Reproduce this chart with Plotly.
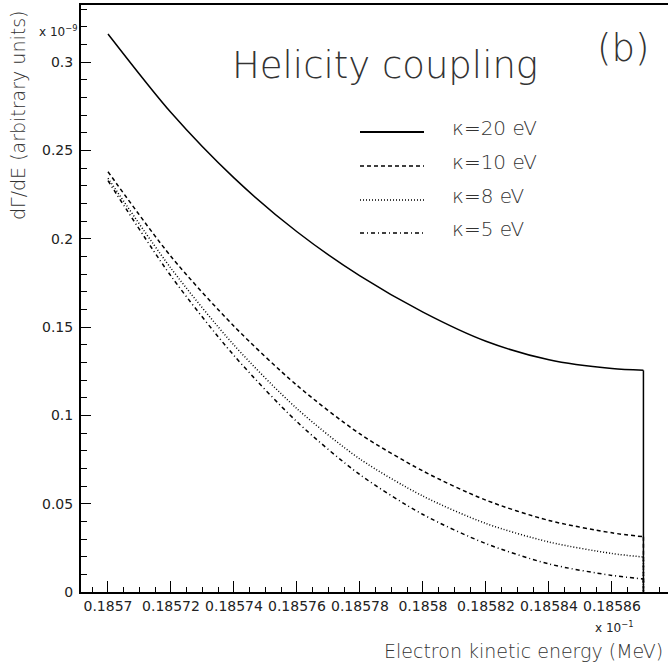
import plotly.graph_objects as go

# ---- data (values in units of 1e-9) ----
energy = [0.1857, 0.18572, 0.18574, 0.18576, 0.18578, 0.1858, 0.18582, 0.18584, 0.18586, 0.18587]
k20 = [0.316, 0.2715, 0.2345, 0.204, 0.179, 0.1585, 0.142, 0.1315, 0.1265, 0.1255]
k10 = [0.238, 0.190, 0.1505, 0.117, 0.0895, 0.0685, 0.052, 0.0405, 0.0335, 0.0313]
k8 = [0.2343, 0.1833, 0.1398, 0.1038, 0.0753, 0.0543, 0.0388, 0.0283, 0.0218, 0.0198]
k5 = [0.2329, 0.1789, 0.1339, 0.0964, 0.0664, 0.0439, 0.0274, 0.0159, 0.0094, 0.0074]
endpoint_value = 0.0

labels = ["\u03ba=20 eV", "\u03ba=10 eV", "\u03ba=8 eV", "\u03ba=5 eV"]
series = [k20, k10, k8, k5]
dashes = ["solid", "4px,3px", "1px,2px", "4px,3px,1px,3px"]

xtick_vals = [0.1857, 0.18572, 0.18574, 0.18576, 0.18578, 0.1858, 0.18582, 0.18584, 0.18586]
xtick_text = ["0.1857", "0.18572", "0.18574", "0.18576", "0.18578", "0.1858", "0.18582", "0.18584", "0.18586"]
ytick_vals = [0, 0.05, 0.1, 0.15, 0.2, 0.25, 0.3]
ytick_text = ["0", "0.05", "0.1", "0.15", "0.2", "0.25", "0.3"]

TICKFONT = "DejaVu Sans"
BIGFONT = "DejaVu Sans"
INK = "#222222"
TXT = "#333333"

fig = go.Figure()
for name, ys, d in zip(labels, series, dashes):
    fig.add_trace(go.Scatter(x=energy, y=ys, mode="lines", name=name,
                             line=dict(color="black", width=1.5, dash=d, shape="spline", smoothing=0.8),
                             showlegend=False))
    fig.add_trace(go.Scatter(x=[energy[-1], energy[-1]], y=[ys[-1], endpoint_value], mode="lines",
                             line=dict(color="black", width=1.5, dash=d), showlegend=False, hoverinfo="skip"))

W, H = 668, 665
L, R, T, B = 81, 0, 5, 73
fig.update_layout(
    width=W, height=H,
    margin=dict(l=L, r=R, t=T, b=B),
    paper_bgcolor="white", plot_bgcolor="white",
    font=dict(family=TICKFONT, color=INK, size=13),
    showlegend=False,
)
fig.update_xaxes(
    range=[0.18569143, 0.1858778],
    tickvals=xtick_vals, ticktext=xtick_text,
    ticks="inside", ticklen=11, tickwidth=1, tickcolor="black",
    minor=dict(dtick=0.000005, tick0=0.1857, ticks="inside", ticklen=5, tickcolor="black", tickwidth=1),
    showline=True, linecolor="black", linewidth=2, mirror=True,
    showgrid=False, zeroline=False, automargin=False,
    tickfont=dict(size=14, family=TICKFONT, color=INK),
)
fig.update_yaxes(
    range=[0, 0.3324],
    tickvals=ytick_vals, ticktext=ytick_text,
    ticks="inside", ticklen=10, tickwidth=1, tickcolor="black",
    minor=dict(dtick=0.01, tick0=0, ticks="inside", ticklen=6, tickcolor="black", tickwidth=1),
    showline=True, linecolor="black", linewidth=2,
    showgrid=False, zeroline=False, automargin=False,
    ticklabelstandoff=3,
    tickfont=dict(size=14, family=TICKFONT, color=INK),
)

def px2paper_x(px):
    return (px - L) / (W - L - R)

def px2paper_y(py):
    return (H - B - py) / (H - T - B)

def note(text, px, py, size, xanchor="center", family=BIGFONT, weight=200, color=TXT, **kw):
    return dict(text=text, x=px2paper_x(px), y=px2paper_y(py), xref="paper", yref="paper",
                xanchor=xanchor, yanchor="middle", showarrow=False,
                font=dict(size=size, family=family, color=color, weight=weight), **kw)

ann = [
    note("Helicity coupling", 385, 66, 37),
    note("(b)", 623, 49, 37),
    note("x 10<sup>\u22129</sup>", 37, 31, 12, xanchor="left", family=TICKFONT, weight=400, color=INK),
    note("x 10<sup>\u22121</sup>", 593, 627, 12, xanchor="left", family=TICKFONT, weight=400, color=INK),
    note("Electron kinetic energy (MeV)", 665, 651, 19, xanchor="right"),
    note("d\u0393/dE (arbitrary units)", 18, 116, 19, textangle=-90),
]

legend_y = [132, 166, 200, 233]
shapes = []
for lab, d, ly in zip(labels, dashes, legend_y):
    shapes.append(dict(type="line", xref="paper", yref="paper",
                       x0=px2paper_x(360), x1=px2paper_x(424), y0=px2paper_y(ly), y1=px2paper_y(ly),
                       line=dict(color="black", width=1.8 if d == "solid" else 1.5, dash=d)))
    ann.append(note(lab, 450, ly - 4, 20, xanchor="left"))

fig.update_layout(annotations=ann, shapes=shapes)
fig.write_html("out.html", config={"displayModeBar": False},
               post_script="document.body.style.margin='0';document.body.style.overflow='hidden';")
